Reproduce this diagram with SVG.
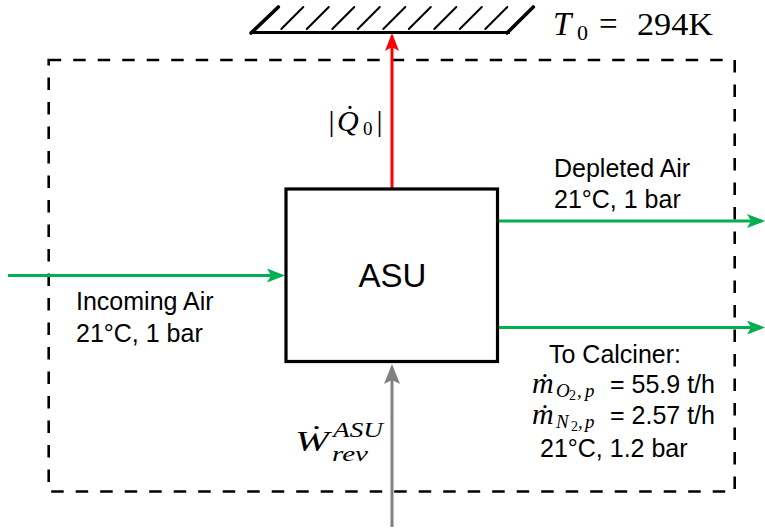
<svg xmlns="http://www.w3.org/2000/svg" width="765" height="529" viewBox="0 0 765 529">
<defs>
<style>
.sans{font-family:"Liberation Sans",Arial,sans-serif;fill:#000}
.math{font-family:"Liberation Serif","Times New Roman",serif;fill:#000}
.it{font-style:italic}
.flow{fill:none;stroke-width:3}
.hatch{stroke:#000;stroke-width:2;stroke-linecap:round}
</style>
<marker id="ahG" markerUnits="userSpaceOnUse" markerWidth="18" markerHeight="14" refX="14" refY="7" orient="auto"><path d="M0,0 L18,7 L0,14 L4,7 Z" fill="#00b050"/></marker>
<marker id="ahR" markerUnits="userSpaceOnUse" markerWidth="18" markerHeight="14" refX="14" refY="7" orient="auto"><path d="M0,0 L18,7 L0,14 L4,7 Z" fill="#ff0000"/></marker>
<marker id="ahK" markerUnits="userSpaceOnUse" markerWidth="20" markerHeight="16" refX="16" refY="8" orient="auto"><path d="M0,0 L20,8 L0,16 L4,8 Z" fill="#808080"/></marker>
</defs>
<rect width="765" height="529" fill="#fff"/>

<g id="boundary">
<rect x="48.7" y="60" width="686" height="431.5" fill="none" stroke="#000" stroke-width="2.6" stroke-dasharray="12.5 12"/>
</g>

<g id="ground">
<line x1="250" y1="32.5" x2="510" y2="32.5" stroke="#000" stroke-width="3.2"/>
<line x1="251" y1="33" x2="278.3" y2="7" stroke="#000" stroke-width="3.6" stroke-linecap="round"/>
<line x1="507" y1="33" x2="533.3" y2="7" stroke="#000" stroke-width="3.6" stroke-linecap="round"/>
<line class="hatch" x1="281.3" y1="29" x2="303.3" y2="7"/>
<line class="hatch" x1="306.8" y1="29" x2="328.8" y2="7"/>
<line class="hatch" x1="332.3" y1="29" x2="354.3" y2="7"/>
<line class="hatch" x1="357.8" y1="29" x2="379.8" y2="7"/>
<line class="hatch" x1="383.3" y1="29" x2="405.3" y2="7"/>
<line class="hatch" x1="408.8" y1="29" x2="430.8" y2="7"/>
<line class="hatch" x1="434.3" y1="29" x2="456.3" y2="7"/>
<line class="hatch" x1="459.8" y1="29" x2="481.8" y2="7"/>
<line class="hatch" x1="485.3" y1="29" x2="507.3" y2="7"/>
</g>

<g id="t0-label">
<text class="math it" x="553" y="35" font-size="33">T</text>
<text class="math" x="577" y="40" font-size="22">0</text>
<text class="math" x="599" y="35" font-size="33">=</text>
<text class="math" x="637" y="35" font-size="32" textLength="76" lengthAdjust="spacingAndGlyphs">294K</text>
</g>

<g id="connectors">
<path class="flow" d="M392,188 V37" stroke="#ff0000" stroke-width="2.7" marker-end="url(#ahR)"/>
<path class="flow" d="M8,275.5 H281" stroke="#00b050" marker-end="url(#ahG)"/>
<path class="flow" d="M497,221 H761" stroke="#00b050" marker-end="url(#ahG)"/>
<path class="flow" d="M497,327.5 H761" stroke="#00b050" marker-end="url(#ahG)"/>
<path class="flow" d="M392,527 V368" stroke="#808080" marker-end="url(#ahK)"/>
</g>

<g id="asu">
<rect x="286" y="189" width="211.5" height="172.5" fill="#fff" stroke="#000" stroke-width="3.2"/>
<text class="sans" x="392.5" y="286.5" font-size="33" text-anchor="middle">ASU</text>
</g>

<g id="q0-label">
<text class="math" y="131" font-size="30"><tspan x="328.5">|</tspan><tspan x="337" class="it">Q̇</tspan><tspan x="363" y="135" font-size="19">0</tspan><tspan x="376.5" y="131">|</tspan></text>
</g>

<g id="incoming-label">
<text class="sans" x="76" y="310" font-size="25">Incoming Air</text>
<text class="sans" x="76" y="341.7" font-size="25">21°C, 1 bar</text>
</g>

<g id="depleted-label">
<text class="sans" x="554" y="176.7" font-size="25">Depleted Air</text>
<text class="sans" x="554" y="208" font-size="25">21°C, 1 bar</text>
</g>

<g id="calciner-label">
<text class="sans" x="549" y="362.7" font-size="25">To Calciner:</text>
<text class="math it" y="392.7" font-size="30"><tspan x="532">ṁ</tspan><tspan x="556" y="397" font-size="19">O</tspan><tspan x="569" y="400" font-size="14" font-style="normal">2</tspan><tspan x="577" y="397" font-size="19">,</tspan><tspan x="585" font-size="19">p</tspan></text>
<text class="sans" x="610" y="392.7" font-size="25">= 55.9 t/h</text>
<text class="math it" y="424" font-size="30"><tspan x="532">ṁ</tspan><tspan x="556" y="428.3" font-size="19">N</tspan><tspan x="571" y="431.3" font-size="14" font-style="normal">2</tspan><tspan x="578" y="428.3" font-size="19">,</tspan><tspan x="585" font-size="19">p</tspan></text>
<text class="sans" x="610" y="424" font-size="25">= 2.57 t/h</text>
<text class="sans" x="540" y="456.7" font-size="25">21°C, 1.2 bar</text>
</g>

<g id="w-label">
<text class="math it" x="295" y="451" font-size="30" textLength="34" lengthAdjust="spacingAndGlyphs">Ẇ</text>
<text class="math it" x="333" y="437" font-size="21" textLength="50" lengthAdjust="spacingAndGlyphs">ASU</text>
<text class="math it" x="332" y="461" font-size="21" textLength="36" lengthAdjust="spacingAndGlyphs">rev</text>
</g>
</svg>
